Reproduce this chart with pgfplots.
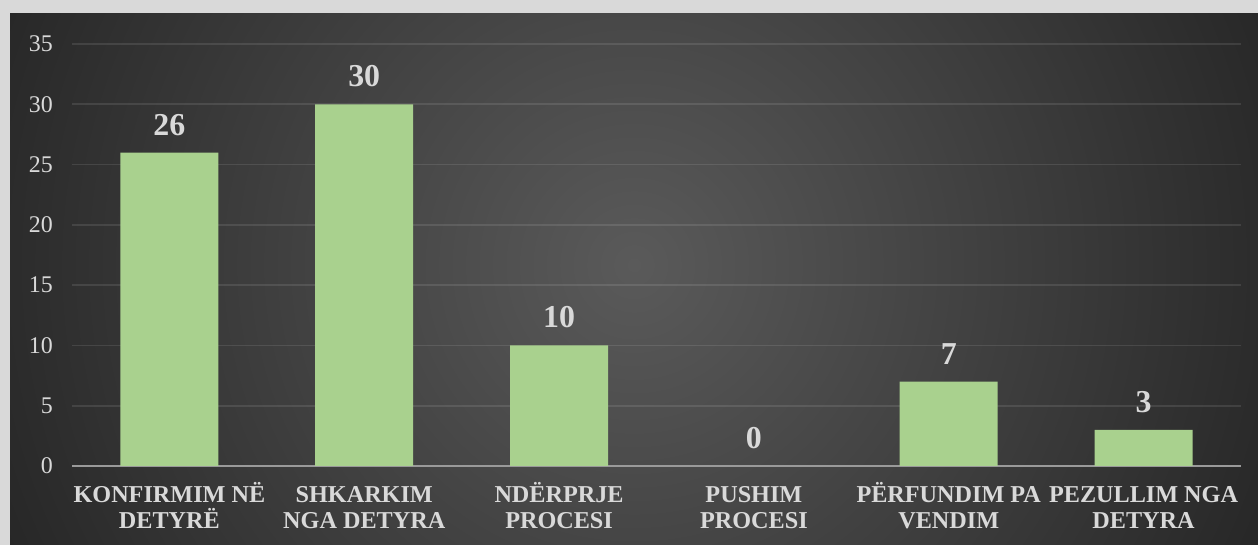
\documentclass[border=0pt]{standalone}
\usepackage{fontspec}
\setmainfont{Liberation Serif}
\usepackage{pgfplots}
\pgfplotsset{compat=1.18}

\definecolor{frame}{HTML}{D9D9D9}
\definecolor{bgin}{HTML}{5A5A5A}
\definecolor{bgout}{HTML}{262626}
\definecolor{bargreen}{HTML}{A9D18E}
\definecolor{txt}{HTML}{D9D9D9}
\definecolor{axisgray}{HTML}{9A9A9A}

\begin{document}
\begin{tikzpicture}
\useasboundingbox (0,0) rectangle (1258bp,545bp);
\fill[frame] (0,0) rectangle (1258bp,545bp);
\fill[bgout] (10bp,0) rectangle (1258bp,531bp);
\begin{scope}
  \clip (10bp,0) rectangle (1258bp,531bp);
  \shade[inner color=bgin, outer color=bgout] (634bp,280bp) circle (700bp);
\end{scope}

\begin{axis}[
  at={(72bp,79bp)}, anchor=south west,
  scale only axis, width=1169bp, height=422bp,
  xmin=-0.5, xmax=5.5, ymin=0, ymax=35,
  ytick={0,5,...,35},
  xtick={0,1,2,3,4,5},
  xticklabels={
    {\rule{0pt}{20bp}KONFIRMIM NË\\DETYRË},
    {\rule{0pt}{20bp}SHKARKIM\\NGA DETYRA},
    {\rule{0pt}{20bp}NDËRPRJE\\PROCESI},
    {\rule{0pt}{20bp}PUSHIM\\PROCESI},
    {\rule{0pt}{20bp}PËRFUNDIM PA\\VENDIM},
    {\rule{0pt}{20bp}PEZULLIM NGA\\DETYRA}},
  axis line style={draw=none},
  major tick length=0pt,
  ymajorgrids,
  grid style={white, opacity=0.1, line width=1.6bp},
  extra y ticks={0}, extra y tick labels={},
  extra y tick style={grid style={axisgray, opacity=1, line width=2.2bp}},
  /pgf/number format/assume math mode=true,
  yticklabel style={font=\fontsize{24}{24}\selectfont, text=txt, anchor=east, inner sep=0pt, xshift=-19bp},
  xticklabel style={font=\bfseries\fontsize{24.3}{26}\selectfont, text=txt, align=center, anchor=north, inner sep=0pt, yshift=-16bp},
  ybar, bar width=98bp,
  nodes near coords,
  every node near coord/.append style={font=\bfseries\fontsize{32}{32}\selectfont, text=txt, anchor=south, inner sep=0pt, yshift=17bp},
]
\addplot[fill=bargreen, draw=none] coordinates {
  (0,26) (1,30) (2,10) (3,0) (4,7) (5,3)
};
\end{axis}
\end{tikzpicture}
\end{document}
